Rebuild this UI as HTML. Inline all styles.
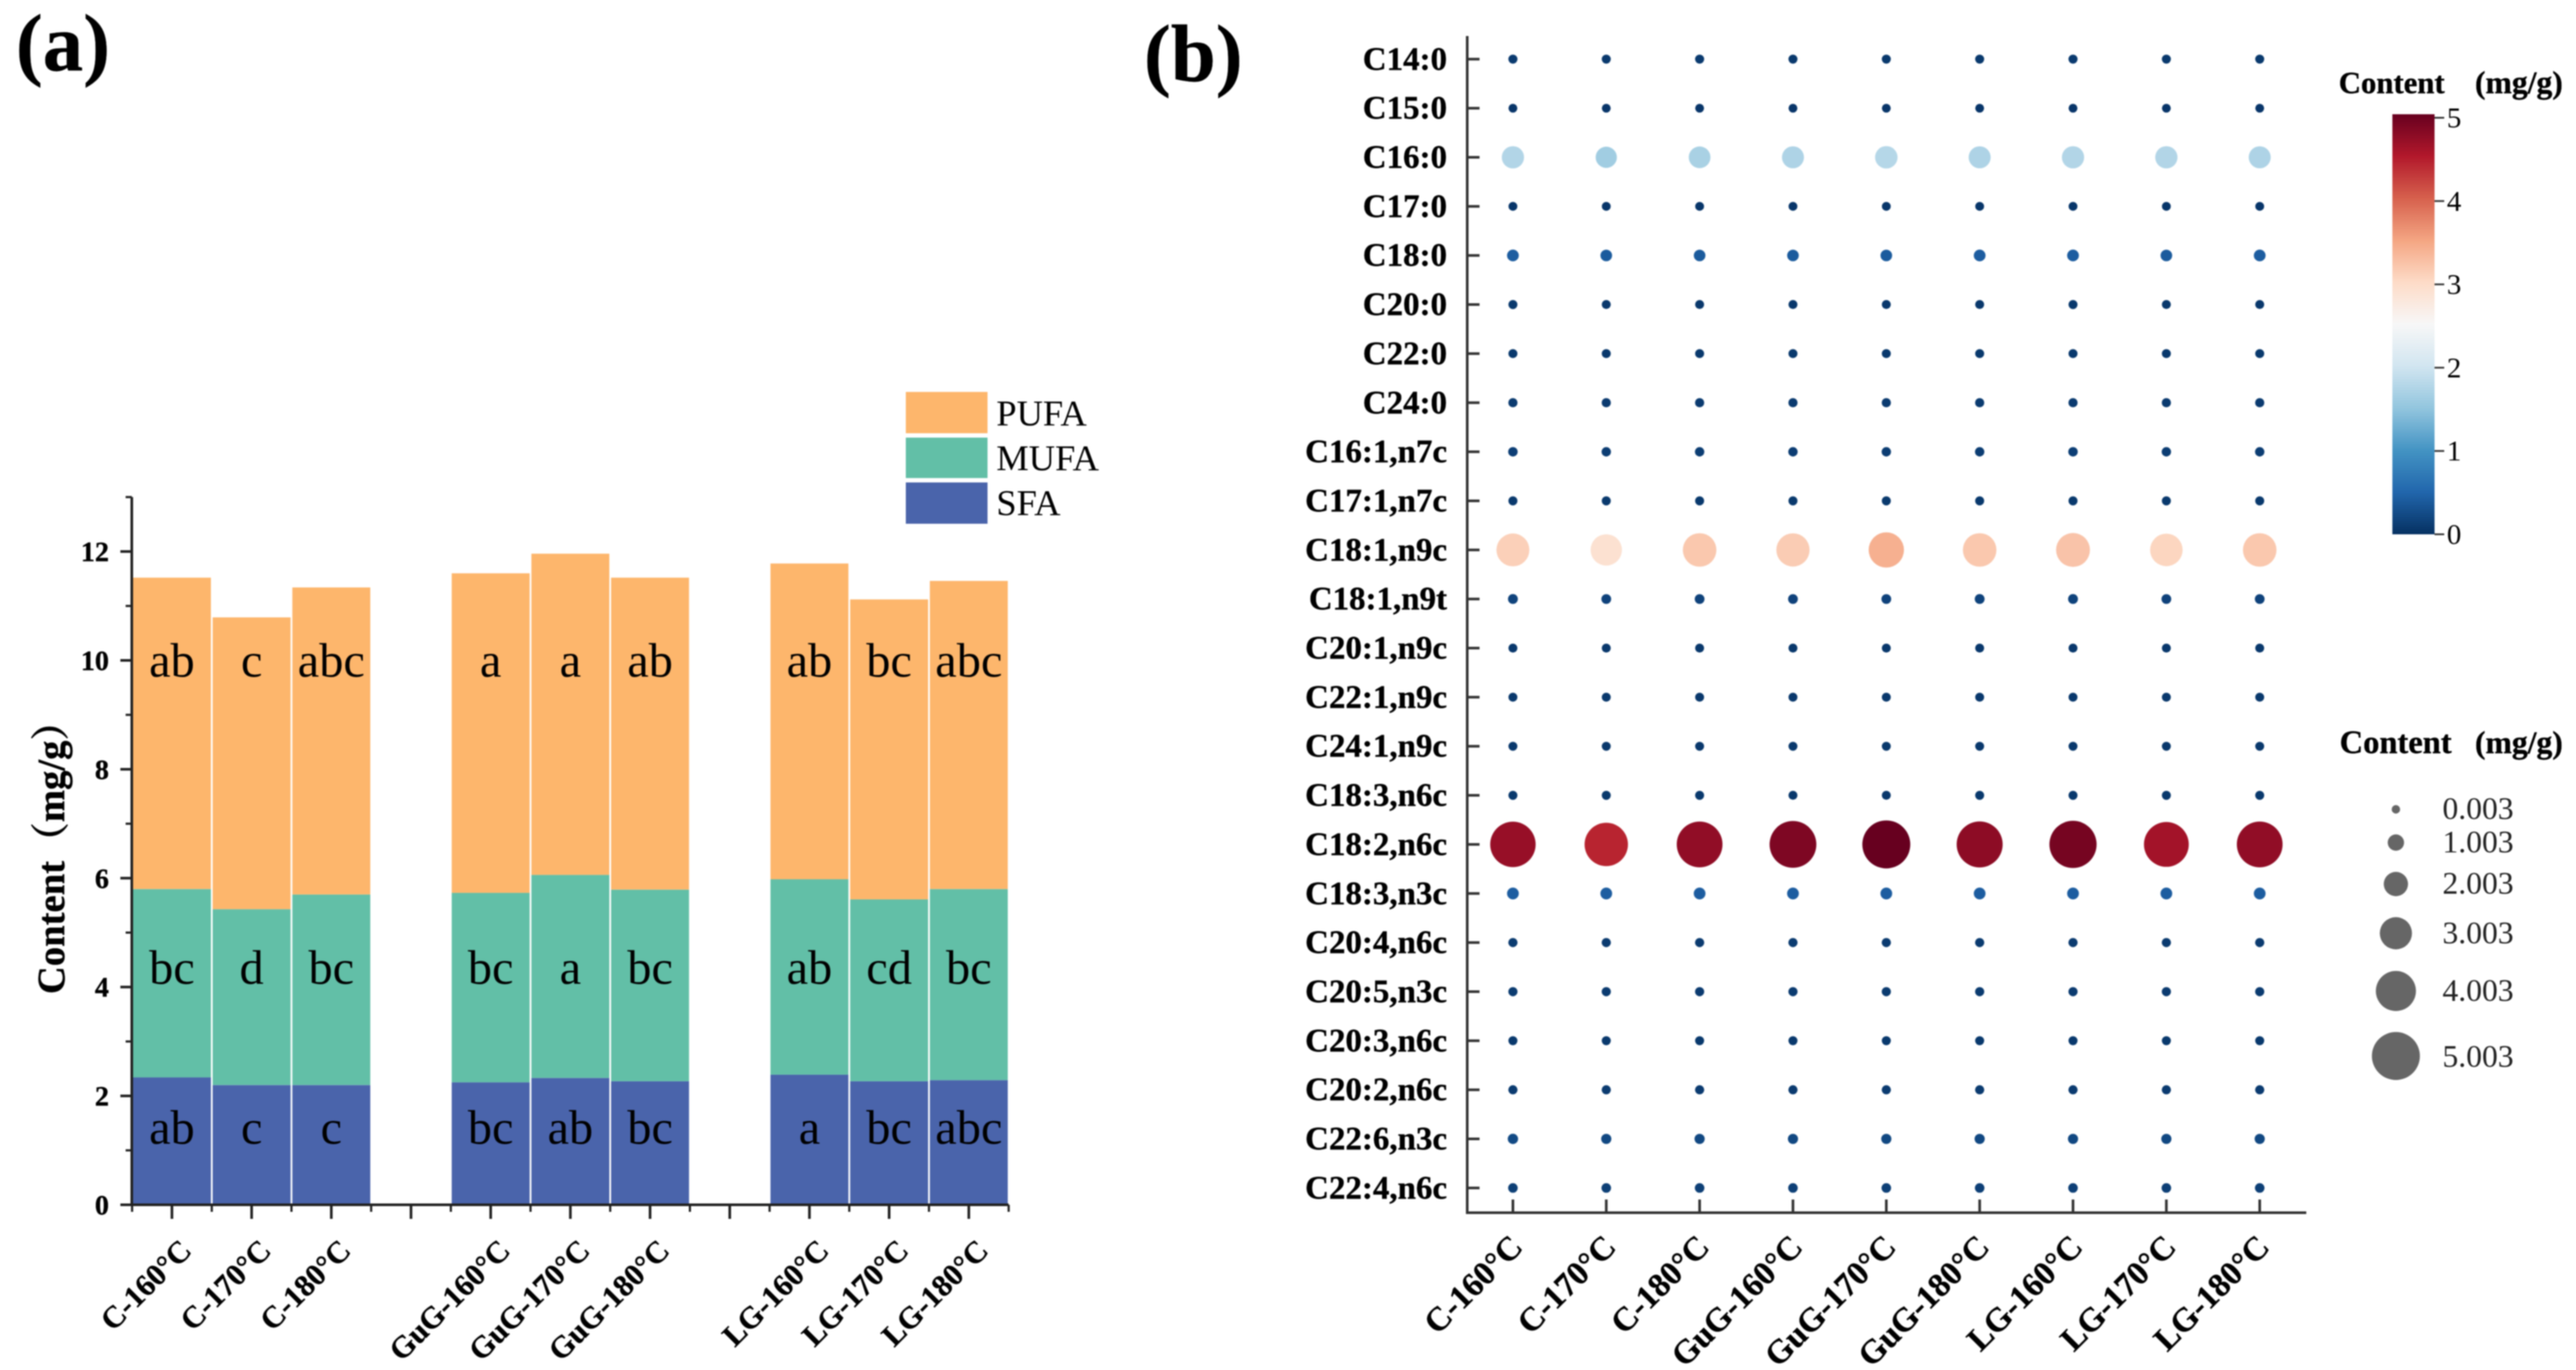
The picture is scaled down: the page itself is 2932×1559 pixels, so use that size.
<!DOCTYPE html>
<html lang="en">
<head>
<meta charset="utf-8">
<title>Fatty acid content by treatment</title>
<style>
html,body{margin:0;padding:0;background:#fff;width:2932px;height:1559px;overflow:hidden}
svg{display:block;filter:blur(0.8px)}
text{font-family:"Liberation Serif","Noto Serif CJK SC",serif;fill:#000}
.b{font-weight:bold;stroke:#000;stroke-width:.4px}
</style>
</head>
<body>
<svg id="figure" xmlns="http://www.w3.org/2000/svg" width="2932" height="1559" viewBox="0 0 2932 1559">
  <rect x="0" y="0" width="2932" height="1559" fill="#fff"/>
  <defs>
    <linearGradient id="rdbu" x1="0" y1="1" x2="0" y2="0">
      <stop offset="0" stop-color="#053061"/><stop offset=".1" stop-color="#2166ac"/><stop offset=".2" stop-color="#4393c3"/><stop offset=".3" stop-color="#92c5de"/><stop offset=".4" stop-color="#d1e5f0"/><stop offset=".5" stop-color="#f7f7f7"/><stop offset=".6" stop-color="#fddbc7"/><stop offset=".7" stop-color="#f4a582"/><stop offset=".8" stop-color="#d6604d"/><stop offset=".9" stop-color="#b2182b"/><stop offset="1" stop-color="#67001f"/>
    </linearGradient>
  </defs>
  <text class="b" x="18" y="80" font-size="92">(a)</text>
  <text class="b" x="1302" y="92" font-size="92">(b)</text>
  <text class="b" font-size="44" text-anchor="middle" transform="translate(73,965) rotate(-90)">Content（mg/g）</text>

  <g>
    <rect x="1031" y="446" width="93" height="47" fill="#fdb66c"/>
    <rect x="1031" y="498" width="93" height="46" fill="#62bfa7"/>
    <rect x="1031" y="549" width="93" height="47" fill="#4a64ab"/>
    <text x="1134" y="484" font-size="41.5">PUFA</text>
    <text x="1134" y="535" font-size="41.5">MUFA</text>
    <text x="1134" y="586" font-size="41.5">SFA</text>
  </g>

  <g>
    <text class="b" x="2662" y="106" font-size="35">Content</text>
    <text class="b" x="2817" y="106" font-size="36">(mg/g)</text>
    <rect x="2723" y="130" width="48" height="478" fill="url(#rdbu)"/>
  </g>

  <g>
    <text class="b" x="2663" y="857" font-size="37">Content</text>
    <text class="b" x="2817" y="857" font-size="36">(mg/g)</text>
  </g>

  <g id="barChart"></g>
  <g id="dotChart"></g>
  <g id="colorTicks"></g>
  <g id="sizeLegend"></g>
</svg>

<script>
// ---------- Panel (a) data ----------
const barCategories = ["C-160°C","C-170°C","C-180°C",null,"GuG-160°C","GuG-170°C","GuG-180°C",null,"LG-160°C","LG-170°C","LG-180°C"];
const sfaValues  = [2.34,2.20,2.20,null,2.25,2.33,2.27,null,2.39,2.27,2.29];
const mufaValues = [3.46,3.23,3.50,null,3.48,3.73,3.52,null,3.59,3.34,3.51];
const pufaValues = [5.72,5.36,5.64,null,5.87,5.90,5.73,null,5.80,5.51,5.66];
const sfaLetters  = ["ab","c","c",null,"bc","ab","bc",null,"a","bc","abc"];
const mufaLetters = ["bc","d","bc",null,"bc","a","bc",null,"ab","cd","bc"];
const pufaLetters = ["ab","c","abc",null,"a","a","ab",null,"ab","bc","abc"];
const barYTicks = [0,2,4,6,8,10,12];
const barYMinorTicks = [1,3,5,7,9,11,13];

// ---------- Panel (b) data ----------
const dotColumns = ["C-160°C","C-170°C","C-180°C","GuG-160°C","GuG-170°C","GuG-180°C","LG-160°C","LG-170°C","LG-180°C"];
const dotRows = ["C14:0","C15:0","C16:0","C17:0","C18:0","C20:0","C22:0","C24:0","C16:1,n7c","C17:1,n7c","C18:1,n9c","C18:1,n9t","C20:1,n9c","C22:1,n9c","C24:1,n9c","C18:3,n6c","C18:2,n6c","C18:3,n3c","C20:4,n6c","C20:5,n3c","C20:3,n6c","C20:2,n6c","C22:6,n3c","C22:4,n6c"];
const dotValues = [
  [0.09,0.08,0.09,0.08,0.08,0.08,0.09,0.08,0.08],
  [0.05,0.05,0.05,0.05,0.05,0.05,0.05,0.05,0.05],
  [1.75,1.62,1.68,1.72,1.78,1.72,1.75,1.75,1.72],
  [0.06,0.06,0.06,0.06,0.06,0.06,0.06,0.06,0.06],
  [0.42,0.40,0.40,0.40,0.40,0.42,0.42,0.40,0.42],
  [0.08,0.07,0.07,0.07,0.07,0.07,0.08,0.07,0.07],
  [0.08,0.08,0.08,0.08,0.08,0.08,0.08,0.08,0.08],
  [0.10,0.10,0.10,0.10,0.10,0.10,0.10,0.10,0.10],
  [0.13,0.12,0.12,0.12,0.12,0.12,0.13,0.12,0.12],
  [0.08,0.08,0.08,0.08,0.08,0.08,0.08,0.08,0.08],
  [3.10,2.90,3.18,3.14,3.40,3.18,3.22,3.05,3.18],
  [0.18,0.17,0.17,0.17,0.17,0.18,0.18,0.17,0.17],
  [0.07,0.07,0.07,0.07,0.07,0.07,0.07,0.07,0.07],
  [0.07,0.07,0.07,0.07,0.07,0.07,0.07,0.07,0.07],
  [0.07,0.07,0.07,0.07,0.07,0.07,0.07,0.07,0.07],
  [0.08,0.08,0.08,0.07,0.07,0.08,0.08,0.08,0.08],
  [4.68,4.42,4.72,4.85,5.00,4.75,4.90,4.60,4.72],
  [0.42,0.42,0.42,0.42,0.42,0.42,0.42,0.42,0.42],
  [0.10,0.10,0.10,0.10,0.10,0.10,0.10,0.10,0.10],
  [0.10,0.10,0.10,0.10,0.10,0.10,0.10,0.10,0.10],
  [0.08,0.08,0.08,0.08,0.08,0.08,0.08,0.08,0.08],
  [0.10,0.10,0.10,0.10,0.10,0.10,0.10,0.10,0.10],
  [0.24,0.22,0.22,0.22,0.22,0.22,0.22,0.22,0.22],
  [0.14,0.14,0.14,0.14,0.14,0.14,0.14,0.14,0.14]
];
const colorBarTicks = [0,1,2,3,4,5];
const sizeLegendValues = [0.003,1.003,2.003,3.003,4.003,5.003];
const sizeLegendLabels = ["0.003","1.003","2.003","3.003","4.003","5.003"];
const rdbuStops = ["#053061","#2166ac","#4393c3","#92c5de","#d1e5f0","#f7f7f7","#fddbc7","#f4a582","#d6604d","#b2182b","#67001f"];

// ---------- Scales ----------
const NS = "http://www.w3.org/2000/svg";
const barX = i => 195.7 + 90.7 * i;
const barY = v => 1371 - 61.95 * v;
const dotX = j => 1722 + 106.25 * j;
const dotY = r => 67.3 + 55.85 * r;
const dotR = v => 4.8 + 4.5 * v;
const barTickY = v => 608 - 94.8 * v;
const legendY = [921,958.8,1006,1062,1127.7,1201.7];
const legendBaseline = [932,970,1017,1073.5,1138.8,1214];
function hex(c){return [parseInt(c.slice(1,3),16),parseInt(c.slice(3,5),16),parseInt(c.slice(5,7),16)];}
function dotColor(v){
  const t = Math.max(0,Math.min(1,v/5))*10;
  const k = Math.min(9,Math.floor(t));
  const a = hex(rdbuStops[k]), b = hex(rdbuStops[k+1]), f = t-k;
  return "rgb("+a.map((x,n)=>Math.round(x+(b[n]-x)*f)).join(",")+")";
}
function make(parent,tag,attrs,txt){
  const el = document.createElementNS(NS,tag);
  for(const k in attrs){el.setAttribute(k,attrs[k]);}
  if(txt!==undefined){el.textContent=txt;}
  parent.appendChild(el);
  return el;
}
const AXIS = "#222";
const slug = s => s.toLowerCase().replace(/[^a-z0-9]+/g,"-").replace(/-$/,"");

// ---------- Panel (a) ----------
const barG = document.getElementById("barChart");
const stackColors = ["#4a64ab","#62bfa7","#fdb66c"];
const stackNames = ["sfa","mufa","pufa"];
const stackSeries = [sfaValues,mufaValues,pufaValues];
const stackLetters = [sfaLetters,mufaLetters,pufaLetters];
const letterLevels = [1.12,4.06,9.70];
barCategories.forEach((cat,i)=>{
  if(cat===null){return;}
  let base = 0;
  stackSeries.forEach((series,s)=>{
    const top = base + series[i];
    const rect = make(barG,"rect",{x:barX(i)-45.35+1,y:barY(top),width:88.7,height:barY(base)-barY(top),fill:stackColors[s]});
    
    
    base = top;
  });
  stackLetters.forEach((letters,s)=>{
    const t = make(barG,"text",{x:barX(i),y:barY(letterLevels[s]),"font-size":55,"text-anchor":"middle"},letters[i]);
    
    
  });
});
const barYAxis = make(barG,"line",{x1:150,y1:barY(13),x2:150,y2:barY(0)+1.5,stroke:AXIS,"stroke-width":3});


const barXAxis = make(barG,"line",{x1:150,y1:barY(0),x2:barX(10.5),y2:barY(0),stroke:AXIS,"stroke-width":3});


barYTicks.forEach(v=>{
  const l = make(barG,"line",{x1:137,y1:barY(v),x2:150,y2:barY(v),stroke:AXIS,"stroke-width":3});
  
  
  const t = make(barG,"text",{x:124,y:barY(v)+11,"font-size":32,"text-anchor":"end","class":"b"},String(v));
  
  
});
barYMinorTicks.forEach(v=>{
  const l = make(barG,"line",{x1:143,y1:barY(v),x2:150,y2:barY(v),stroke:AXIS,"stroke-width":2.5});
  
  
});
barCategories.forEach((cat,i)=>{
  const l = make(barG,"line",{x1:barX(i),y1:barY(0),x2:barX(i),y2:barY(0)+16,stroke:AXIS,"stroke-width":3});
  
  
  const m = make(barG,"line",{x1:barX(i)-45.35,y1:barY(0),x2:barX(i)-45.35,y2:barY(0)+8,stroke:AXIS,"stroke-width":2.5});
  
  
  if(cat!==null){
    const lx = barX(i)+24, ly = 1425;
    const t = make(barG,"text",{"font-size":35,"text-anchor":"end","class":"b",transform:"translate("+lx+","+ly+") rotate(-45)"},cat);
    
    
  }
});
const barEndTick = make(barG,"line",{x1:barX(10.5),y1:barY(0),x2:barX(10.5),y2:barY(0)+8,stroke:AXIS,"stroke-width":2.5});



// ---------- Panel (b) ----------
const dotG = document.getElementById("dotChart");
const dotYAxis = make(dotG,"line",{x1:1670,y1:41,x2:1670,y2:1381.5,stroke:"#333","stroke-width":3});


const dotXAxis = make(dotG,"line",{x1:1670,y1:1380,x2:2625,y2:1380,stroke:"#333","stroke-width":3});


dotRows.forEach((row,r)=>{
  const l = make(dotG,"line",{x1:1670,y1:dotY(r),x2:1684,y2:dotY(r),stroke:"#333",fill:"none","stroke-width":3});
  
  
  const t = make(dotG,"text",{x:1647,y:dotY(r)+12,"font-size":37.5,"text-anchor":"end","class":"b"},row);
  
  
  dotColumns.forEach((col,j)=>{
    const v = dotValues[r][j];
    const c = make(dotG,"circle",{cx:dotX(j),cy:dotY(r),r:dotR(v),fill:dotColor(v)});
    
    
  });
});
dotColumns.forEach((col,j)=>{
  const l = make(dotG,"line",{x1:dotX(j),y1:1365,x2:dotX(j),y2:1380,stroke:"#333","stroke-width":3});
  
  
  const lx = dotX(j)+13, ly = 1421;
  const t = make(dotG,"text",{"font-size":38,"text-anchor":"end","class":"b",transform:"translate("+lx+","+ly+") rotate(-45)"},col);
  
  
});

// ---------- Colour bar ticks ----------
const tickG = document.getElementById("colorTicks");
colorBarTicks.forEach(v=>{
  const l = make(tickG,"line",{x1:2771,y1:barTickY(v),x2:2782,y2:barTickY(v),stroke:"#333","stroke-width":2});
  
  
  const t = make(tickG,"text",{x:2785,y:barTickY(v)+11,"font-size":33},String(v));
  
  
});

// ---------- Size legend ----------
const sizeG = document.getElementById("sizeLegend");
sizeLegendValues.forEach((v,i)=>{
  const c = make(sizeG,"circle",{cx:2727,cy:legendY[i],r:dotR(v),fill:"#666"});
  
  
  const t = make(sizeG,"text",{x:2780,y:legendBaseline[i],"font-size":36,style:"fill:#222"},sizeLegendLabels[i]);
  
  
});
</script>
</body>
</html>
